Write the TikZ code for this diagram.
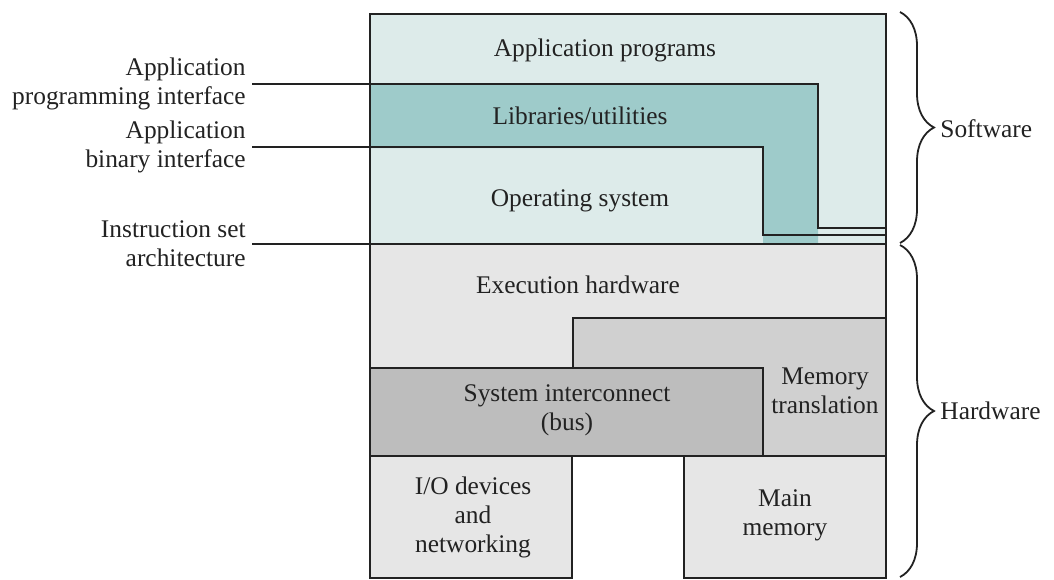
\documentclass[tikz,border=0pt]{standalone}
\usepackage{fontspec}
\setmainfont{Liberation Serif}
\usetikzlibrary{decorations.pathreplacing}
\definecolor{swlight}{HTML}{DDEBEA}
\definecolor{libteal}{HTML}{9ECBCA}
\definecolor{hwlight}{HTML}{E6E6E6}
\definecolor{memgray}{HTML}{D0D0D0}
\definecolor{busgray}{HTML}{BDBDBD}
\definecolor{ink}{HTML}{222222}
\begin{document}
\begin{tikzpicture}[x=0.5pt,y=-0.5pt,
  every node/.style={font=\fontsize{12.7}{14.5}\selectfont, text=ink, inner sep=0pt},
  layer/.style={draw=ink, line width=1.2pt},
  txt/.style={align=center},
  side/.style={align=right, anchor=east},
  iface/.style={draw=ink, line width=1.2pt},
  bracestyle/.style={draw=ink, line width=0.9pt, decorate, decoration={brace, amplitude=17pt}}]
\useasboundingbox (0,0) rectangle (1054,579);
% software fills
\fill[swlight] (370,14) rectangle (886,244);
\fill[libteal] (370,85) -- (818,85) -- (818,244) -- (763,244) -- (763,148) -- (370,148) -- cycle;
% hardware fills
\fill[hwlight] (370,244) rectangle (886,456);
\filldraw[layer, fill=memgray] (573,318) rectangle (886,456);
\filldraw[layer, fill=busgray] (370,368) rectangle (763,456);
\filldraw[layer, fill=hwlight] (370,456) rectangle (572,578);
\filldraw[layer, fill=hwlight] (684,456) rectangle (886,578);
\draw[layer] (370,244) rectangle (886,456);
\draw[layer] (370,244) -- (370,14) -- (886,14) -- (886,244);
% labels on left
\node[side] (api) at (246,84) {Application\\programming interface};
\node[side] (abi) at (246,147) {Application\\binary interface};
\node[side] (isa) at (246,244) {Instruction set\\architecture};
% interface lines
\draw[iface] ([xshift=3pt]api.east) -- (818,84) -- (818,228) -- (886,228);
\draw[iface] ([xshift=3pt]abi.east) -- (763,147) -- (763,235) -- (886,235);
\draw[iface] ([xshift=3pt]isa.east) -- (886,244);
% texts
\node[txt] (app) at (605,50) {Application programs};
\node[txt] (lib) at (580,116) {Libraries/utilities};
\node[txt] (os) at (580,201) {Operating system};
\node[txt] (exe) at (578,285) {Execution hardware};
\node[txt] (bus) at (567,410) {System interconnect\\(bus)};
\node[txt] (mt) at (825,391) {Memory\\translation};
\node[txt] (io) at (473,517) {I/O devices\\and\\networking};
\node[txt] (mm) at (785,515) {Main\\memory};
% braces
\draw[bracestyle] (900,12) -- (900,243);
\draw[bracestyle] (900,245) -- (900,577);
\node[anchor=west] (sw) at (940,129) {Software};
\node[anchor=west] (hw) at (940,411) {Hardware};
\end{tikzpicture}
\end{document}
